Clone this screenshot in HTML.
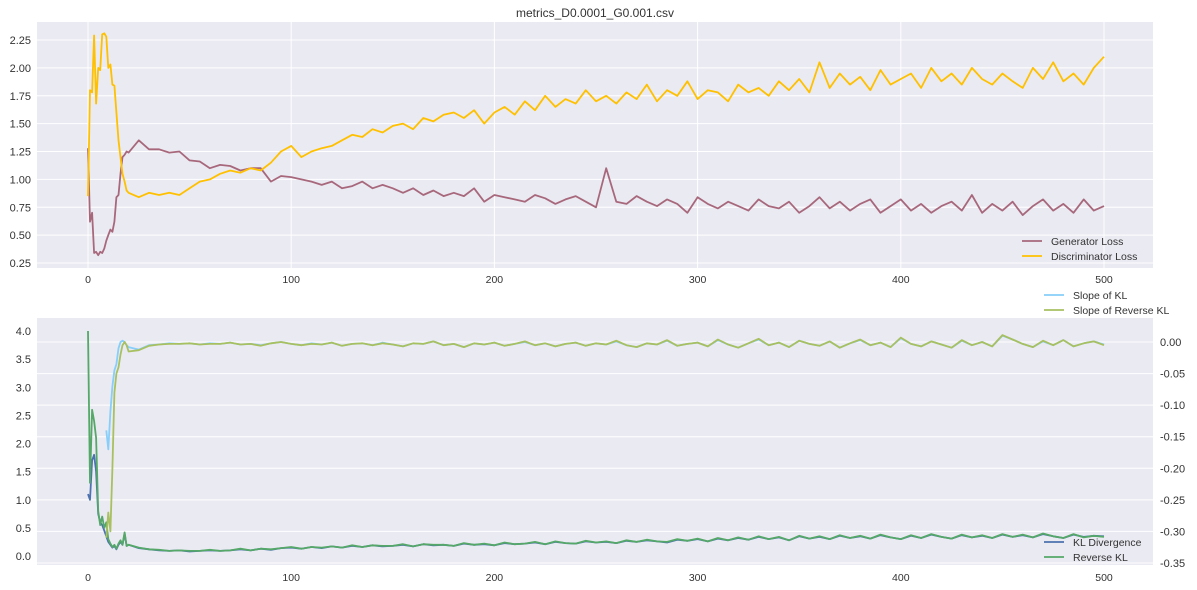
<!DOCTYPE html>
<html><head><meta charset="utf-8"><style>
html,body{margin:0;padding:0;background:#fff;}
svg{display:block;font-family:"Liberation Sans","DejaVu Sans",sans-serif;}
</style></head><body>
<svg id="chart" width="1197" height="590" xmlns="http://www.w3.org/2000/svg"></svg>
<script>
const xs=[0,1,2,3,4,5,6,7,8,9,10,11,12,13,14,15,16,17,18,19,20];
for(let v=25;v<=500;v+=5)xs.push(v);
const genLoss=[1.28,0.62,0.70,0.34,0.35,0.32,0.35,0.34,0.38,0.45,0.50,0.55,0.53,0.62,0.84,0.86,1.05,1.20,1.22,1.25,1.24,
1.35,1.27,1.27,1.24,1.25,1.17,1.16,1.10,1.13,1.12,1.08,1.10,1.10,0.98,1.03,1.02,1.00,0.98,0.95,0.98,0.92,0.94,0.98,0.92,0.95,0.92,0.88,0.92,0.86,0.90,0.85,0.88,0.85,0.92,0.80,0.86,0.84,0.82,0.80,0.86,0.83,0.78,0.82,0.85,0.80,0.75,1.10,0.80,0.78,0.85,0.80,0.76,0.82,0.78,0.70,0.84,0.78,0.74,0.80,0.76,0.72,0.82,0.76,0.74,0.80,0.70,0.76,0.84,0.74,0.80,0.72,0.78,0.82,0.70,0.76,0.82,0.72,0.78,0.70,0.76,0.80,0.72,0.86,0.70,0.78,0.72,0.80,0.68,0.76,0.82,0.72,0.78,0.70,0.82,0.72,0.76];
const discLoss=[0.85,1.80,1.78,2.29,1.68,2.00,1.98,2.30,2.31,2.28,2.00,2.03,1.85,1.84,1.60,1.35,1.20,1.05,0.98,0.90,0.88,
0.84,0.88,0.86,0.88,0.86,0.92,0.98,1.00,1.05,1.08,1.06,1.10,1.08,1.15,1.25,1.30,1.20,1.25,1.28,1.30,1.35,1.40,1.38,1.45,1.42,1.48,1.50,1.45,1.55,1.52,1.58,1.60,1.55,1.62,1.50,1.60,1.65,1.58,1.70,1.62,1.75,1.65,1.72,1.68,1.80,1.70,1.75,1.68,1.78,1.72,1.85,1.70,1.80,1.75,1.88,1.72,1.80,1.78,1.70,1.85,1.78,1.82,1.75,1.88,1.80,1.90,1.78,2.05,1.82,1.95,1.85,1.92,1.80,1.98,1.85,1.90,1.95,1.82,2.00,1.88,1.95,1.85,2.00,1.90,1.85,1.95,1.88,1.82,2.00,1.90,2.05,1.88,1.95,1.85,2.00,2.10];
const klDiv=[1.1,1.0,1.7,1.8,1.5,0.75,0.6,0.55,0.45,0.35,0.25,0.2,0.15,0.18,0.12,0.2,0.25,0.2,0.4,0.18,0.2,
0.14,0.12,0.10,0.09,0.10,0.08,0.09,0.10,0.09,0.10,0.12,0.10,0.13,0.11,0.14,0.15,0.13,0.16,0.14,0.17,0.15,0.18,0.16,0.19,0.17,0.18,0.20,0.17,0.21,0.19,0.20,0.18,0.22,0.20,0.21,0.19,0.23,0.21,0.22,0.24,0.21,0.25,0.23,0.22,0.26,0.24,0.25,0.23,0.27,0.25,0.28,0.26,0.24,0.29,0.27,0.30,0.26,0.31,0.28,0.32,0.29,0.34,0.30,0.33,0.28,0.35,0.31,0.34,0.30,0.36,0.32,0.35,0.31,0.37,0.33,0.30,0.36,0.32,0.38,0.34,0.31,0.37,0.33,0.36,0.32,0.38,0.34,0.37,0.33,0.39,0.35,0.32,0.38,0.34,0.36,0.35];
const revKL=[4.0,1.3,2.6,2.4,2.1,0.8,0.55,0.7,0.5,0.6,0.3,0.22,0.16,0.2,0.13,0.22,0.28,0.2,0.42,0.18,0.2,
0.15,0.12,0.11,0.09,0.10,0.09,0.09,0.11,0.09,0.10,0.13,0.10,0.13,0.12,0.14,0.16,0.13,0.16,0.15,0.17,0.15,0.19,0.16,0.19,0.18,0.18,0.21,0.17,0.21,0.20,0.20,0.18,0.23,0.20,0.22,0.19,0.24,0.21,0.22,0.25,0.21,0.26,0.23,0.22,0.27,0.24,0.26,0.23,0.28,0.25,0.29,0.26,0.25,0.30,0.27,0.31,0.26,0.32,0.28,0.33,0.29,0.35,0.30,0.34,0.28,0.36,0.31,0.35,0.30,0.37,0.32,0.36,0.31,0.38,0.33,0.30,0.37,0.32,0.39,0.34,0.31,0.38,0.33,0.37,0.32,0.39,0.34,0.38,0.33,0.40,0.35,0.32,0.39,0.33,0.36,0.34];
const klSlope=[null,null,null,null,null,null,null,null,null,-0.14,-0.17,-0.11,-0.07,-0.045,-0.035,-0.01,0.0,0.002,0.0,-0.005,-0.008,
-0.012,-0.005,-0.004,-0.002,-0.003,-0.002,-0.004,-0.002,-0.003,-0.001,-0.004,-0.003,-0.005,-0.002,0.000,-0.003,-0.005,-0.002,-0.004,-0.001,-0.006,-0.003,-0.002,-0.005,-0.001,-0.004,-0.007,-0.002,-0.003,0.001,-0.005,-0.003,-0.008,-0.002,-0.004,-0.001,-0.006,-0.003,0.000,-0.005,-0.002,-0.007,-0.003,-0.001,-0.006,-0.002,-0.004,0.001,-0.005,-0.008,-0.002,-0.004,0.002,-0.006,-0.003,-0.001,-0.007,0.003,-0.004,-0.009,-0.002,0.004,-0.005,-0.001,-0.008,0.002,-0.003,-0.006,0.001,-0.009,-0.002,0.003,-0.005,-0.001,-0.008,0.006,-0.003,-0.007,0.001,-0.004,-0.009,0.002,-0.005,0.000,-0.007,0.010,0.004,-0.003,-0.008,0.001,-0.005,0.003,-0.007,-0.002,0.001,-0.004];
const revSlope=[null,null,null,null,null,null,null,null,null,-0.31,-0.27,-0.30,-0.20,-0.08,-0.05,-0.04,-0.02,-0.005,0.0,-0.005,-0.015,
-0.013,-0.006,-0.004,-0.003,-0.003,-0.002,-0.004,-0.003,-0.003,-0.001,-0.004,-0.003,-0.006,-0.002,0.000,-0.003,-0.005,-0.003,-0.004,-0.001,-0.006,-0.003,-0.002,-0.005,-0.002,-0.004,-0.007,-0.002,-0.003,0.001,-0.005,-0.003,-0.008,-0.002,-0.004,-0.001,-0.006,-0.003,0.001,-0.005,-0.002,-0.007,-0.003,-0.001,-0.006,-0.002,-0.004,0.002,-0.005,-0.008,-0.002,-0.004,0.003,-0.006,-0.003,-0.001,-0.007,0.004,-0.004,-0.009,-0.002,0.005,-0.005,-0.001,-0.008,0.002,-0.003,-0.006,0.001,-0.009,-0.002,0.004,-0.005,-0.001,-0.008,0.007,-0.003,-0.007,0.001,-0.004,-0.009,0.003,-0.005,0.000,-0.007,0.011,0.004,-0.003,-0.008,0.002,-0.005,0.003,-0.007,-0.002,0.001,-0.005];
const xTicks=[0,100,200,300,400,500];
const topYTicks=[0.25,0.50,0.75,1.00,1.25,1.50,1.75,2.00,2.25];
const botLeftTicks=[0.0,0.5,1.0,1.5,2.0,2.5,3.0,3.5,4.0];
const botRightTicks=[0.00,-0.05,-0.10,-0.15,-0.20,-0.25,-0.30,-0.35];

const NS="http://www.w3.org/2000/svg";
const svg=document.getElementById('chart');
function mk(tag,attrs,parent){const e=document.createElementNS(NS,tag);for(const k in attrs)e.setAttribute(k,attrs[k]);(parent||svg).appendChild(e);return e;}
const X0=37,X1=1153;
const xS=v=>88+(v-0)*(1104-88)/500;
const topY=v=>263-(v-0.25)*(263-40)/2.0;
const botL=v=>556-v*(556-331)/4.0;
const botR=v=>342-(v/0.35)*(563-342);

function panel(name,y0,y1){
  const r=mk('rect',{x:X0,y:y0,width:X1-X0,height:y1-y0,fill:'#eaeaf2'});
  
  
}
function txt(s,x,y,anchor,name,size){
  const t=mk('text',{x:x,y:y,'text-anchor':anchor,'font-size':size||11,fill:'#333'});
  t.textContent=s;
  
  
  return t;
}
function line(xv,yv,yF,color,name,w){
  let d='',pen=false;
  const n=Math.min(xv.length,yv.length);
  for(let i=0;i<n;i++){const v=yv[i];if(v===null){pen=false;continue;}d+=(pen?'L':'M')+xS(xv[i]).toFixed(1)+' '+yF(v).toFixed(1);pen=true;}
  const p=mk('path',{d:d,fill:'none',stroke:color,'stroke-width':w||1.8,'stroke-linejoin':'round'});
  
  
}
function legend(items,x,y,name){
  const g=mk('g',{});
  
  
  items.forEach((it,i)=>{
    mk('line',{x1:x,x2:x+20,y1:y+i*15,y2:y+i*15,stroke:it[1],'stroke-width':1.8},g);
    const t=mk('text',{x:x+29,y:y+i*15+4,'font-size':10.5,fill:'#333'},g);
    t.textContent=it[0];
  });
}
// top panel
panel('top-plot-area',22,268);
topYTicks.forEach(v=>{mk('line',{x1:X0,x2:X1,y1:topY(v),y2:topY(v),stroke:'#fff','stroke-width':1});txt(v.toFixed(2),31,topY(v)+4,'end','top-y-tick');});
xTicks.forEach(v=>{mk('line',{x1:xS(v),x2:xS(v),y1:22,y2:268,stroke:'#fff','stroke-width':1});txt(String(v),xS(v),283,'middle','top-x-tick',10.5);});
line(xs,genLoss,topY,'#a8687c','generator-loss-line');
line(xs,discLoss,topY,'#ffc000','discriminator-loss-line');
legend([['Generator Loss','#a8687c'],['Discriminator Loss','#ffc000']],1022,241,'top-legend');
txt('metrics_D0.0001_G0.001.csv',595,17,'middle','chart-title',12);
// bottom panel
panel('bottom-plot-area',318,565);
botRightTicks.forEach(v=>{mk('line',{x1:X0,x2:X1,y1:botR(v),y2:botR(v),stroke:'#fff','stroke-width':1});txt(v.toFixed(2),1160,botR(v)+4,'start','right-y-tick');});
botLeftTicks.forEach(v=>txt(v.toFixed(1),31,botL(v)+4,'end','left-y-tick'));
xTicks.forEach(v=>txt(String(v),xS(v),581,'middle','bottom-x-tick',10.5));
line(xs,klDiv,botL,'#4c72b0','kl-divergence-line');
line(xs,revKL,botL,'#55a868','reverse-kl-line');
line(xs,klSlope,botR,'#87cefa','slope-kl-line');
line(xs,revSlope,botR,'#a8c060','slope-reverse-kl-line');
legend([['Slope of KL','#87cefa'],['Slope of Reverse KL','#a8c060']],1044,295,'slope-legend');
legend([['KL Divergence','#4c72b0'],['Reverse KL','#55a868']],1044,542,'kl-legend');
</script>
</body></html>
